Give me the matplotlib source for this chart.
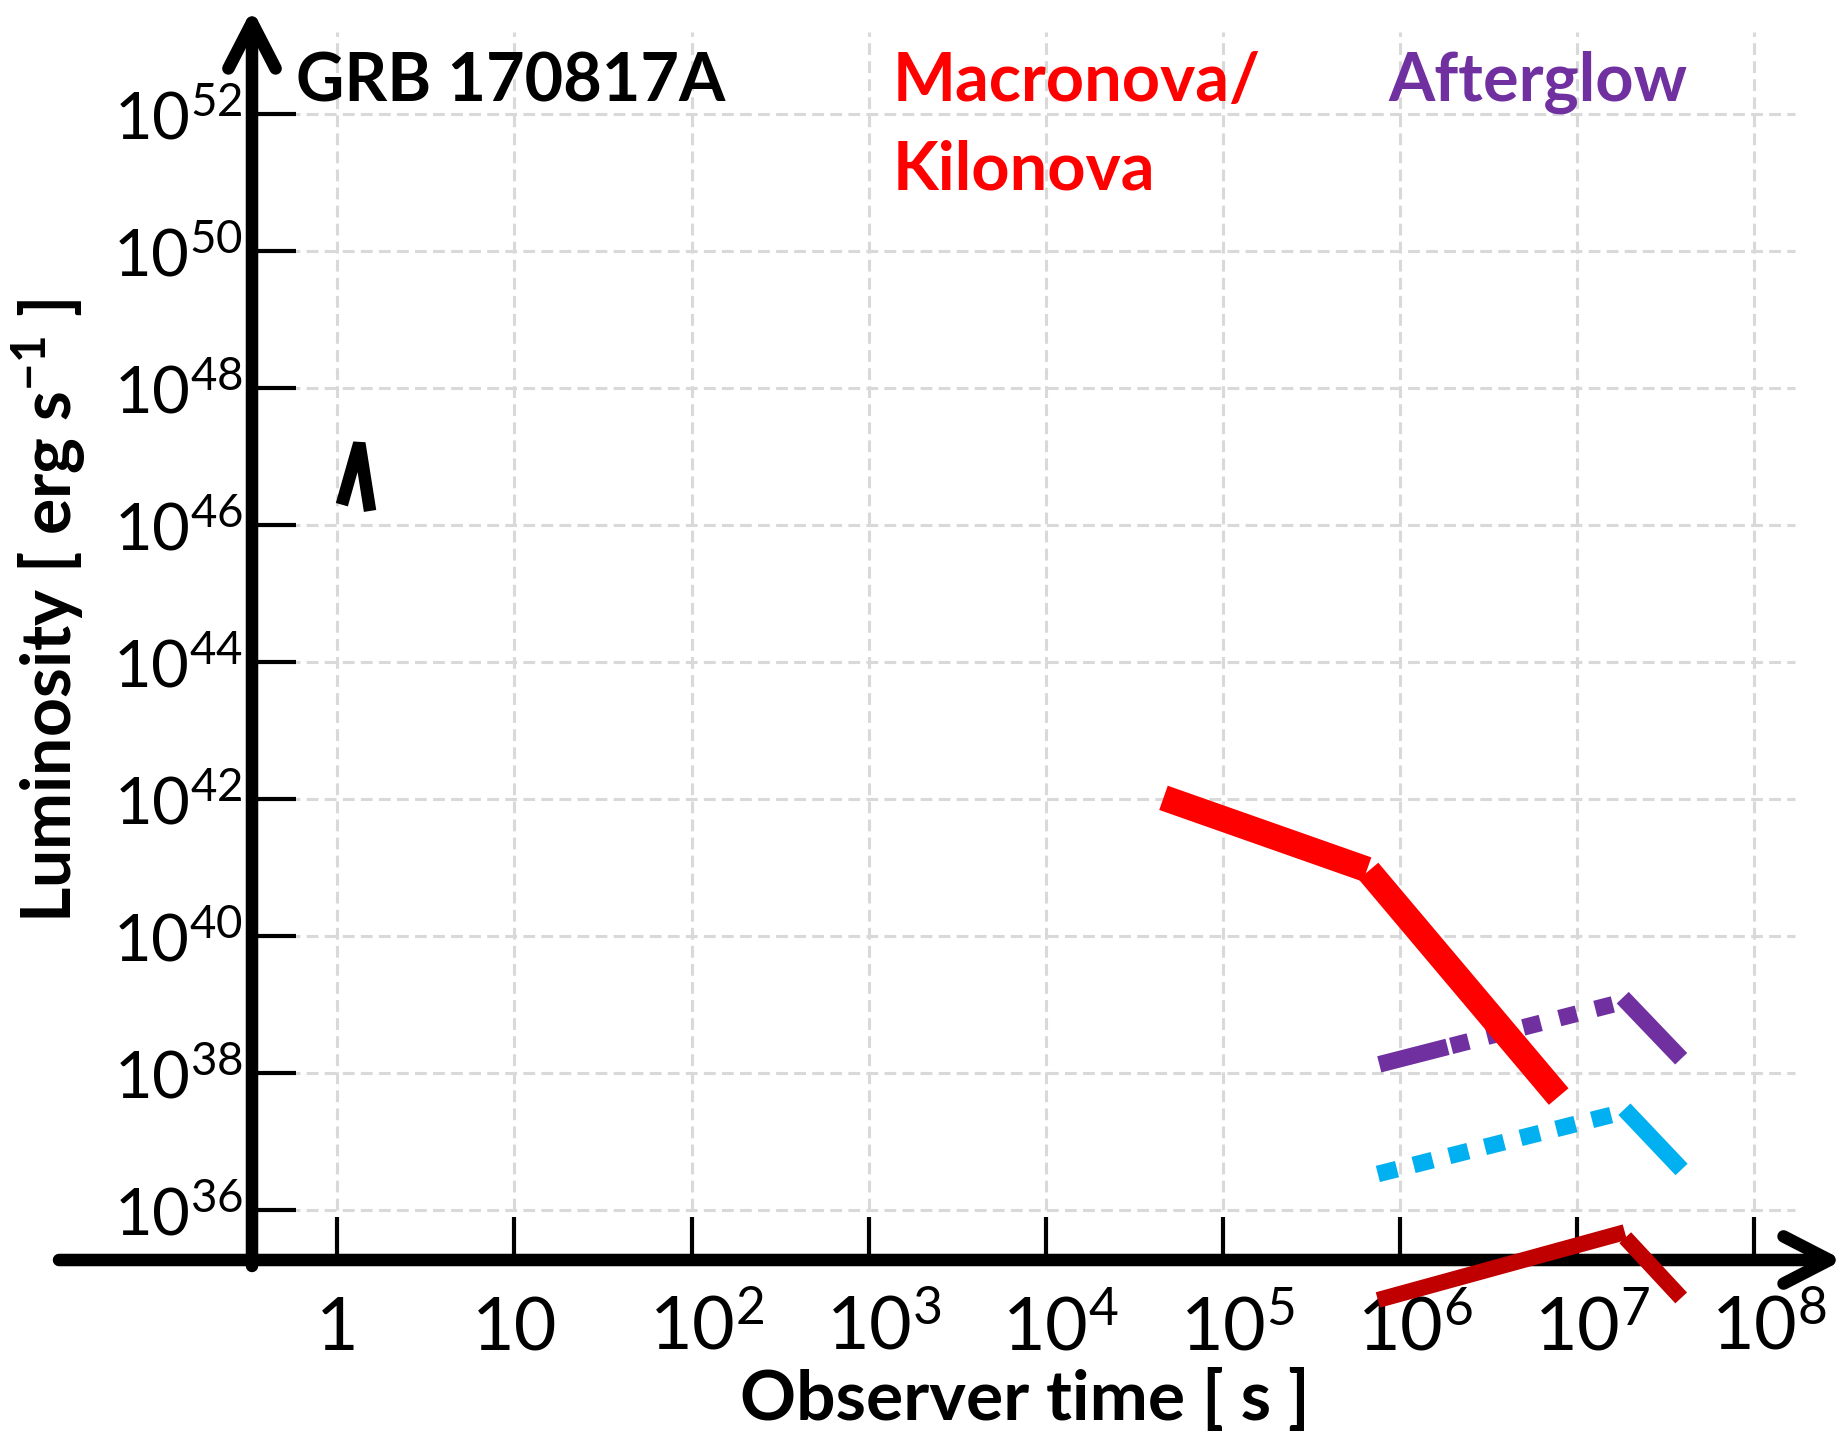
#!/usr/bin/python3

# GRB 170817A: macronova/kilonova and afterglow luminosity sketch

import matplotlib
matplotlib.use('Agg')
import matplotlib.pyplot as plt
import matplotlib.transforms as mtransforms

plt.rcParams['font.family'] = ['Lato', 'DejaVu Sans']
plt.rcParams['mathtext.fontset'] = 'custom'
plt.rcParams['mathtext.rm'] = 'Lato'
plt.rcParams['mathtext.bf'] = 'Lato:bold'
plt.rcParams['lines.scale_dashes'] = False

# prompt emission marker (observer time [s], luminosity [erg/s])
grb_t = [1.06, 1.33, 1.53]
grb_L = [2.0e46, 1.58e47, 1.62e46]

# macronova / kilonova, two power-law pieces
kn_t1 = [4.62e4, 6.52e5]
kn_L1 = [1.05e42, 9.44e40]
kn_t2 = [6.64e5, 7.87e6]
kn_L2 = [8.97e40, 4.57e37]

# afterglow, rise and decay in three bands
ag_purple_rise_t = [7.64e5, 1.61e7]
ag_purple_rise_L = [1.35e38, 1.02e39]
ag_purple_decay_t = [1.81e7, 3.87e7]
ag_purple_decay_L = [1.27e39, 1.63e38]

ag_cyan_rise_t = [7.50e5, 1.57e7]
ag_cyan_rise_L = [3.39e36, 2.47e37]
ag_cyan_decay_t = [1.85e7, 3.89e7]
ag_cyan_decay_L = [2.99e37, 3.94e36]

ag_dred_rise_t = [7.50e5, 1.86e7]
ag_dred_rise_L = [4.90e34, 4.79e35]
ag_dred_decay_t = [1.87e7, 3.87e7]
ag_dred_decay_L = [3.98e35, 5.25e34]

x_ticks = [1, 10, 1e2, 1e3, 1e4, 1e5, 1e6, 1e7, 1e8]
x_tick_labels = ['1', '10', r'$\mathregular{10^{2}}$', r'$\mathregular{10^{3}}$',
                 r'$\mathregular{10^{4}}$', r'$\mathregular{10^{5}}$',
                 r'$\mathregular{10^{6}}$', r'$\mathregular{10^{7}}$',
                 r'$\mathregular{10^{8}}$']
y_ticks = [1e36, 1e38, 1e40, 1e42, 1e44, 1e46, 1e48, 1e50, 1e52]
y_tick_labels = [r'$\mathregular{10^{%d}}$' % e for e in range(36, 53, 2)]

W, H = 1837, 1440
fig = plt.figure(figsize=(W / 100, H / 100), dpi=100)

# axes placed so that the left / bottom edges sit on the drawn arrows
ax = fig.add_axes([252 / W, 180 / H, (1830 - 252) / W, (1425 - 180) / H])
ax.set_xscale('log')
ax.set_yscale('log')
ax.set_xlim(10 ** -0.482, 10 ** 8.428)
ax.set_ylim(10 ** 35.274, 10 ** 53.45)
for s in ['top', 'right', 'bottom', 'left']:
    ax.spines[s].set_visible(False)
ax.minorticks_off()

# dashed light grid, limited like in the original drawing
grid_kw = dict(colors='#D9D9D9', linewidth=2.2, linestyles=(0, (8.5, 4.5)), zorder=1)
ax.hlines(y_ticks, 10 ** -0.482, 10 ** 8.23, **grid_kw)
ax.vlines(x_ticks, 1e36, 10 ** 53.2, **grid_kw)

# ticks pointing into the plot, labels placed by hand
ax.set_xticks(x_ticks)
ax.set_yticks(y_ticks)
ax.tick_params(axis='x', direction='in', length=31, width=3.0, color='black',
               labelbottom=False)
ax.tick_params(axis='y', direction='in', length=32, width=3.0, color='black',
               labelleft=False)
ax.minorticks_off()

for t, lab in zip(x_ticks, x_tick_labels):
    dx = 10.5 if '^' in lab else 0
    off = mtransforms.ScaledTranslation(dx / 72, -65 / 72, fig.dpi_scale_trans)
    ax.text(t, 0, lab, transform=ax.get_xaxis_transform() + off,
            ha='center', va='baseline', fontsize=53, color='black', clip_on=False)

for L, lab in zip(y_ticks, y_tick_labels):
    off = mtransforms.ScaledTranslation(-6.5 / 72, -18 / 72, fig.dpi_scale_trans)
    ax.text(0, L, lab, transform=ax.get_yaxis_transform() + off,
            ha='right', va='baseline', fontsize=47, color='black', clip_on=False)

# axes with open arrow heads
arrow_kw = dict(arrowstyle='->,head_length=3.3,head_width=1.7', lw=9, color='black',
                shrinkA=0, shrinkB=0, mutation_scale=10,
                capstyle='round', joinstyle='round')
ax.annotate('', xy=(1843, 180), xytext=(59, 180), xycoords='figure pixels',
            textcoords='figure pixels', arrowprops=arrow_kw, annotation_clip=False,
            zorder=4)
ax.annotate('', xy=(252, 1431), xytext=(252, 174), xycoords='figure pixels',
            textcoords='figure pixels', arrowprops=arrow_kw, annotation_clip=False,
            zorder=4)

# curves
ax.plot(grb_t, grb_L, color='black', lw=9, solid_joinstyle='bevel',
        solid_capstyle='butt', zorder=3, clip_on=False)

ax.plot(ag_purple_rise_t, ag_purple_rise_L, color='#7030A0', lw=12,
        linestyle=(0, (50.7, 2.7, 13, 13.8, 13, 13.8, 13, 13.8, 13, 13.8, 13, 40)),
        dash_capstyle='butt', zorder=3, clip_on=False)
ax.plot(ag_purple_decay_t, ag_purple_decay_L, color='#7030A0', lw=12,
        solid_capstyle='butt', zorder=3, clip_on=False)

ax.plot(ag_cyan_rise_t, ag_cyan_rise_L, color='#00B0F0', lw=12,
        linestyle=(0, (14.2, 12.3)), dash_capstyle='butt', zorder=3, clip_on=False)
ax.plot(ag_cyan_decay_t, ag_cyan_decay_L, color='#00B0F0', lw=12,
        solid_capstyle='butt', zorder=3, clip_on=False)

ax.plot(kn_t1, kn_L1, color='#FF0000', lw=18.5, solid_capstyle='butt',
        zorder=3.5, clip_on=False)
ax.plot(kn_t2, kn_L2, color='#FF0000', lw=18.5, solid_capstyle='butt',
        zorder=3.5, clip_on=False)

ax.plot(ag_dred_rise_t, ag_dred_rise_L, color='#C00000', lw=11.5,
        solid_capstyle='butt', zorder=5, clip_on=False)
ax.plot(ag_dred_decay_t, ag_dred_decay_L, color='#C00000', lw=11.5,
        solid_capstyle='butt', zorder=5, clip_on=False)

# annotations
fig.text(296 / W, 1 - 102 / H, 'GRB 170817A', fontsize=48, fontweight='bold',
         color='black', ha='left', va='baseline')
fig.text(893 / W, 1 - 101 / H, 'Macronova/', fontsize=48, fontweight='bold',
         color='#FF0000', ha='left', va='baseline')
fig.text(893 / W, 1 - 190 / H, 'Kilonova', fontsize=48, fontweight='bold',
         color='#FF0000', ha='left', va='baseline')
fig.text(1388 / W, 1 - 101 / H, 'Afterglow', fontsize=48, fontweight='bold',
         color='#7030A0', ha='left', va='baseline')

fig.text(1025 / W, 1 - 1420 / H, 'Observer time [ s ]', fontsize=50,
         fontweight='bold', ha='center', va='baseline')
fig.text(49 / W, 1 - 611 / H, r'Luminosity [ erg s$^{\mathbf{-1}}$ ]', fontsize=49,
         fontweight='bold', rotation=90, ha='center', va='center')

fig.savefig('out.png', dpi=100)
